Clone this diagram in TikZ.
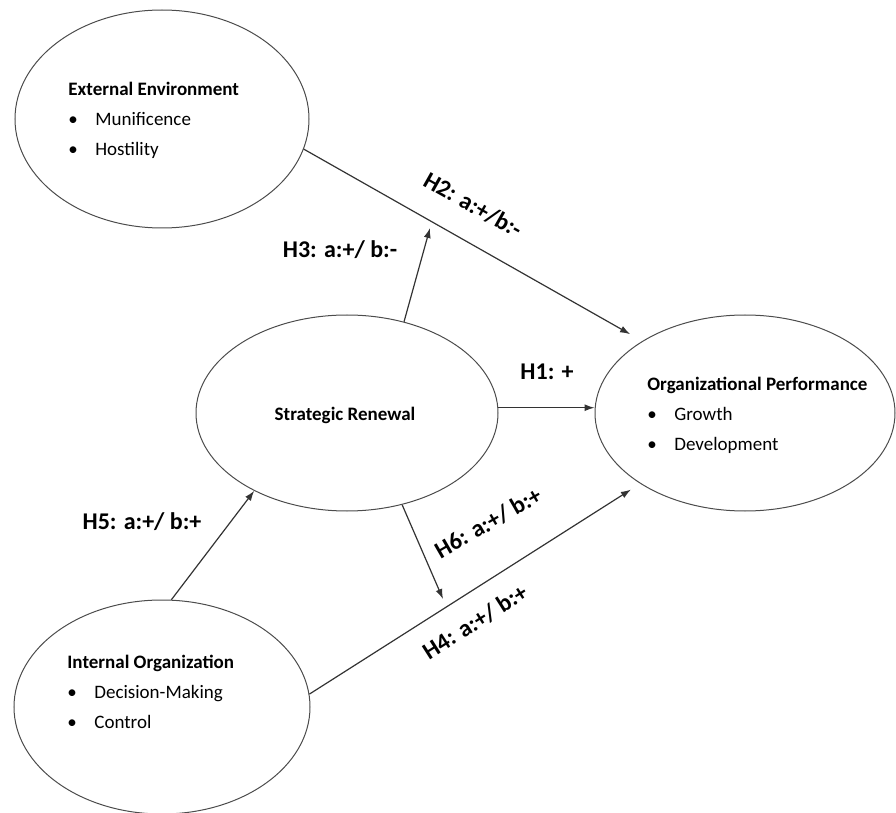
\documentclass[tikz,border=0pt]{standalone}
\usepackage{fontspec}
\setmainfont{Carlito}
\usetikzlibrary{shapes.geometric,arrows.meta}

\tikzset{
  construct/.style={draw=black!70, line width=0.5pt, ellipse, inner sep=0pt},
  items/.style={anchor=west, align=left, inner sep=0pt, font=\fontsize{9.5}{15}\selectfont},
  hyp/.style={font=\fontsize{12}{14}\selectfont\bfseries, inner sep=0pt},
  link/.style={draw=black!80, line width=0.6pt, -{Latex[length=5pt,width=3.5pt]}},
}
\newcommand{\itm}[1]{\makebox[13.5pt][l]{\textbullet}#1}

\begin{document}
\begin{tikzpicture}[x=0.5pt, y=-0.5pt]
\useasboundingbox (0,0) rectangle (896,813);

% constructs
\node (ext) [construct, minimum width=147pt, minimum height=109pt] at (162,119) {};
\node (ren) [construct, minimum width=151pt, minimum height=98pt] at (347,413) {};
\node (perf) [construct, minimum width=150pt, minimum height=98pt] at (745,413) {};
\node (int) [construct, minimum width=148pt, minimum height=107pt] at (162,707) {};

\node (exttxt) [items] at (68,120) {\textbf{External Environment}\\ \itm{Munificence}\\ \itm{Hostility}};
\node (rentxt) [items, anchor=center] at (345,415) {\textbf{Strategic Renewal}};
\node (perftxt) [items] at (647,415) {\textbf{Organizational Performance}\\ \itm{Growth}\\ \itm{Development}};
\node (inttxt) [items] at (67,692) {\textbf{Internal Organization}\\ \itm{Decision-Making}\\ \itm{Control}};

% hypotheses
\coordinate (h3end) at (430,228);
\coordinate (h6end) at (443,599);
\draw [link, shorten >=7pt] (ext.-12) -- (perf.145);
\draw [link] (ren.58) -- (h3end);
\draw [link] (ren.2) -- (ren.2 -| perf.west);
\draw [link] (ren.-59) -- (h6end);
\draw [link, shorten >=5.5pt] (int.5) -- (perf.214);
\draw [link] (int.85) -- (ren.220);

\node (h1) [hyp] at (547,372) {H1: +};
\node (h2) [hyp, rotate=-29.4] at (473,205) {H2: a:+/b:-};
\node (h3) [hyp] at (340,250) {H3: a:+/ b:-};
\node (h4) [hyp, rotate=32.5] at (475,622) {H4: a:+/ b:+};
\node (h5) [hyp] at (142,522) {H5: a:+/ b:+};
\node (h6) [hyp, rotate=30] at (488,523) {H6: a:+/ b:+};
\end{tikzpicture}
\end{document}
